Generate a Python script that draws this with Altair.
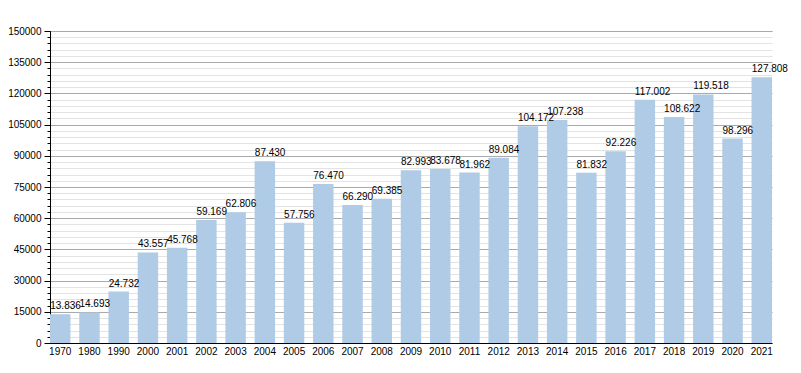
import altair as alt
import pandas as pd

years = ["1970", "1980", "1990", "2000", "2001", "2002", "2003", "2004", "2005",
         "2006", "2007", "2008", "2009", "2010", "2011", "2012", "2013", "2014",
         "2015", "2016", "2017", "2018", "2019", "2020", "2021"]
values = [13836, 14693, 24732, 43557, 45768, 59169, 62806, 87430, 57756,
          76470, 66290, 69385, 82993, 83678, 81962, 89084, 104172, 107238,
          81832, 92226, 117002, 108622, 119518, 98296, 127808]
major_ticks = [0, 15000, 30000, 45000, 60000, 75000, 90000, 105000, 120000, 135000, 150000]
minor_step = 3000

labels = [f"{v:,}".replace(",", ".") for v in values]
minor_ticks = list(range(0, 150001, minor_step))

df = pd.DataFrame({"year": years, "value": values, "label": labels})

FONT = "Liberation Sans"
yscale = alt.Scale(domain=[0, 150000], nice=False, zero=True)
xenc = alt.X("year:N", sort=None,
             scale=alt.Scale(paddingInner=0.3, paddingOuter=0),
             axis=alt.Axis(title=None, labelAngle=0, ticks=False, domainColor="black",
                           labelFontSize=10, labelPadding=3, labelColor="black",
                           labelFont=FONT, grid=False))

base = alt.Chart(df)

minor = base.mark_bar(opacity=0).encode(
    x=xenc,
    y=alt.Y("value:Q", scale=yscale,
            axis=alt.Axis(orient="left", values=minor_ticks, labels=False, title=None,
                          domain=False, tickSize=3, tickColor="black", grid=True,
                          gridColor="#e3e3e3", gridWidth=1)),
)

bars = base.mark_bar(color="#b0cbe6").encode(
    x=xenc,
    y=alt.Y("value:Q", scale=yscale,
            axis=alt.Axis(orient="left", values=major_ticks, format="d", title=None,
                          domain=True, domainColor="black", tickSize=6, tickColor="black",
                          labelFontSize=10, labelPadding=3, labelColor="black",
                          labelFont=FONT, grid=True, gridColor="#aaaaaa", gridWidth=1)),
)

text = base.mark_text(align="left", baseline="alphabetic", dx=-10, dy=-5,
                      fontSize=10, font=FONT, color="black").encode(
    x=xenc,
    y=alt.Y("value:Q", scale=yscale, axis=None),
    text="label:N",
)

chart = alt.layer(minor, bars, text).resolve_axis(y="independent").properties(
    width=722, height=312,
    autosize=alt.AutoSizeParams(type="none"),
    padding={"left": 42, "top": 23, "right": 21, "bottom": 20},
).configure_view(stroke=None)

chart.save("out.html", embed_options={"renderer": "svg", "actions": False})
